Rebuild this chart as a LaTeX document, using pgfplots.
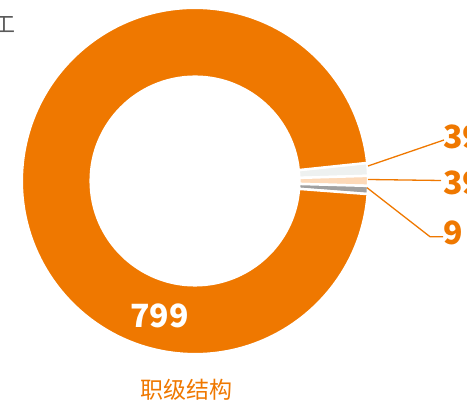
\documentclass[border=0pt]{standalone}
\usepackage{pgfplots}
\pgfplotsset{compat=1.18}
\usepackage{pgfplotstable}
\usepackage{fontspec}
\setmainfont{Noto Sans CJK SC}
\definecolor{cOrange}{RGB}{239,120,0}
\definecolor{cWhite}{RGB}{238,241,240}
\definecolor{cPeach}{RGB}{253,217,184}
\definecolor{cGray}{RGB}{160,160,160}
\definecolor{cText}{RGB}{90,90,90}

% slices in drawing order, clockwise from 6 degrees
\pgfplotstableread{
label value color
39 9.8 cWhite
39 7.6 cPeach
9 6.2 cGray
799 799 cOrange
}\piedata

\begin{document}
\begin{tikzpicture}
\useasboundingbox (0,0) rectangle (467pt,403pt);
\clip (0,0) rectangle (467pt,403pt);
\begin{axis}[x=1pt, y=1pt, xmin=0, xmax=467, ymin=0, ymax=403,
  hide axis, clip=false, at={(0,0)}, anchor=origin]
\def\cx{195}\def\cy{222}\def\rout{173.2}\def\rin{104.3}
\def\total{0}
\pgfplotsforeachungrouped \i in {0,...,3}{%
  \pgfplotstablegetelem{\i}{value}\of\piedata
  \pgfmathsetmacro\total{\total+\pgfplotsretval}%
}
\def\astart{6}
\pgfplotsforeachungrouped \i in {0,...,3}{%
  \pgfplotstablegetelem{\i}{value}\of\piedata \let\v\pgfplotsretval
  \pgfplotstablegetelem{\i}{color}\of\piedata \let\c\pgfplotsretval
  \pgfmathsetmacro\aend{\astart-\v/\total*360}%
  \pgfmathsetmacro\xa{\cx+\rout*cos(\astart)}%
  \pgfmathsetmacro\ya{\cy+\rout*sin(\astart)}%
  \pgfmathsetmacro\xb{\cx+\rin*cos(\aend)}%
  \pgfmathsetmacro\yb{\cy+\rin*sin(\aend)}%
  \edef\cmd{\noexpand\fill[fill=\c, draw=white, line width=2.5pt, line join=miter]
    (axis cs:\xa,\ya) arc[start angle=\astart, end angle=\aend, radius=\rout pt]
    -- (axis cs:\xb,\yb) arc[start angle=\aend, end angle=\astart, radius=\rin pt] -- cycle;}%
  \cmd
  \let\astart\aend
}
% leader lines
\addplot[cOrange, line width=1.3pt, no marks] coordinates {(368,237) (444,263)};
\addplot[cOrange, line width=1.3pt, no marks] coordinates {(368,223.5) (441,222.5)};
\addplot[cOrange, line width=1.3pt, no marks] coordinates {(367,215.3) (430,166.3) (443,166.3)};
% labels
\node[anchor=base west, inner sep=0, text=cOrange, font=\fontsize{32}{32}\selectfont\bfseries] at (axis cs:443,254.7) {39};
\node[anchor=base west, inner sep=0, text=cOrange, font=\fontsize{32}{32}\selectfont\bfseries] at (axis cs:443,208) {39};
\node[anchor=base west, inner sep=0, text=cOrange, font=\fontsize{32}{32}\selectfont\bfseries] at (axis cs:443.5,158) {9};
\node[anchor=base west, inner sep=0, text=white, font=\fontsize{32}{32}\selectfont\bfseries] at (axis cs:130,75) {799};
\node[anchor=center, inner sep=0, text=cOrange, font=\fontsize{23}{23}\selectfont] at (axis cs:186,13) {职级结构};
\node[anchor=east, inner sep=0, text=cText, font=\fontsize{22}{22}\selectfont] at (axis cs:16,378) {员工};
\end{axis}
\end{tikzpicture}
\end{document}
